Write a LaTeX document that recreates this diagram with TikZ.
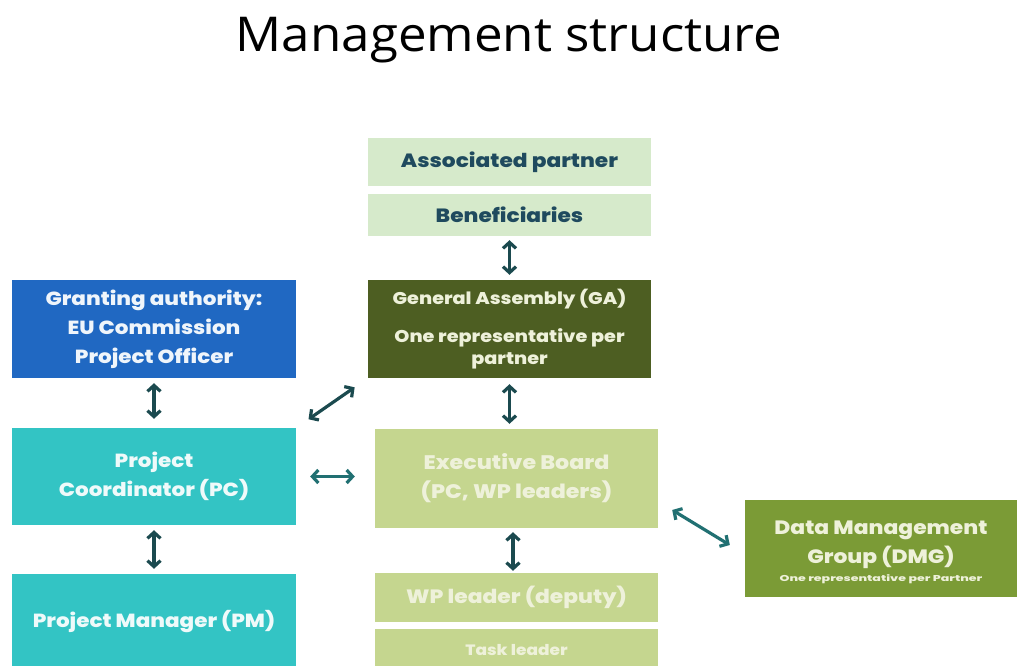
\documentclass[tikz,border=0pt]{standalone}
\usepackage{fontspec}
\setmainfont{Open Sans}
\newfontfamily\titlefont{Open Sans}[FakeStretch=1.064]
\newfontfamily\boxfont{Poppins}[UprightFont={* ExtraBold},FakeStretch=1.13]
\newfontfamily\notefont{Poppins}[UprightFont={* ExtraBold},FakeStretch=1.48]
\usetikzlibrary{arrows.meta,calc}
\definecolor{mint}{HTML}{D6EACB}
\definecolor{navytext}{HTML}{1F4A5E}
\definecolor{gadark}{HTML}{4D5E22}
\definecolor{eublue}{HTML}{2068C2}
\definecolor{teal}{HTML}{33C4C4}
\definecolor{lightolive}{HTML}{C5D68F}
\definecolor{dmgolive}{HTML}{7B9B36}
\definecolor{paletext}{HTML}{EEF1DA}
\definecolor{arrowdark}{HTML}{1B4A4F}
\definecolor{arrowteal}{HTML}{217072}
\newcommand\boxsize[2]{\boxfont\fontsize{#1}{#2}\selectfont}
\begin{document}
\begin{tikzpicture}[x=1pt,y=-1pt,
  box/.style={inner sep=0pt,align=center},
  arr/.style={line width=3.2pt,{Straight Barb[length=6pt,width=13pt]}-{Straight Barb[length=6pt,width=13pt]}},
]
\useasboundingbox[fill=white] (0,0) rectangle (1017,666);
\begin{scope}
\clip (0,0) rectangle (1017,666);

% title
\node[anchor=base,font=\titlefont\fontsize{48}{52}\selectfont] (title) at (509,52) {Management structure};

% partner column
\node[box,fill=mint,text=navytext,minimum width=283pt,minimum height=48pt,font=\boxsize{19.2}{23}]
  (assoc) at (509.5,162) {Associated partner};
\node[box,fill=mint,text=navytext,minimum width=283pt,minimum height=42pt,font=\boxsize{19.2}{23}]
  (benef) at (509.5,215) {Beneficiaries};
\node[box,fill=gadark,text=paletext,minimum width=283pt,minimum height=98pt,font=\boxsize{17}{22}]
  (ga) at (509.5,329) {General Assembly (GA)\\[16pt]One representative per\\partner};

% coordination column
\node[box,fill=eublue,text=white!93!eublue,minimum width=284pt,minimum height=98pt,font=\boxsize{19}{29}]
  (grant) at (154,329) {Granting authority:\\EU Commission\\Project Officer};
\node[box,fill=teal,text=white!92!teal,minimum width=284pt,minimum height=97pt,font=\boxsize{19}{29}]
  (pc) at (154,476.5) {Project\\Coordinator (PC)};
\node[box,fill=teal,text=white!92!teal,minimum width=284pt,minimum height=96pt,font=\boxsize{19}{29}]
  (pm) at (154,622) {Project Manager (PM)};

% executive column
\node[box,fill=lightolive,text=paletext,minimum width=283pt,minimum height=99pt,font=\boxsize{19.6}{29}]
  (eb) at (516.5,478.5) {Executive Board\\(PC, WP leaders)};
\node[box,fill=lightolive,text=paletext,minimum width=283pt,minimum height=49pt,font=\boxsize{19.3}{23}]
  (wp) at (516.5,597.5) {WP leader (deputy)};
\node[box,fill=lightolive,text=paletext,minimum width=283pt,minimum height=42pt,font=\boxsize{15}{18}]
  (task) at (516.5,650) {Task leader};

% data management group: box, with its text set a little low
\node[box,fill=dmgolive,minimum width=272pt,minimum height=97pt,
  label={[box,text=paletext,font=\boxsize{19.3}{29},yshift=-4pt]center:{Data Management\\Group (DMG)\\[-11pt]{\notefont\fontsize{8.5}{10}\selectfont One representative per Partner}}}]
  (dmg) at (881,548.5) {};

% connectors
\draw[arr,arrowdark,shorten <=4pt,shorten >=5pt] (benef.south) -- (benef.south |- ga.north);
\draw[arr,arrowdark,shorten <=6pt,shorten >=5pt] (ga.south) -- (ga.south |- eb.north);
\draw[arr,arrowdark,shorten <=5pt,shorten >=9pt] (grant.south) -- (pc.north);
\draw[arr,arrowdark,shorten <=5pt,shorten >=5pt] (pc.south) -- (pm.north);
\draw[arr,arrowdark,shorten <=4pt,shorten >=2pt] ([xshift=-3.5pt]eb.south) -- ([xshift=-3.5pt]wp.north);
\draw[arr,arrowdark,shorten <=15pt,shorten >=16pt] (pc.north east) -- (ga.south west);
\draw[arr,arrowteal,shorten <=14pt,shorten >=20pt] (pc.east) -- (pc.east -| eb.west);
\draw[arr,arrowteal] ([shift={(14,31.5)}]eb.east) -- ([shift={(-15,-3.5)}]dmg.west);
\end{scope}
\end{tikzpicture}
\end{document}
